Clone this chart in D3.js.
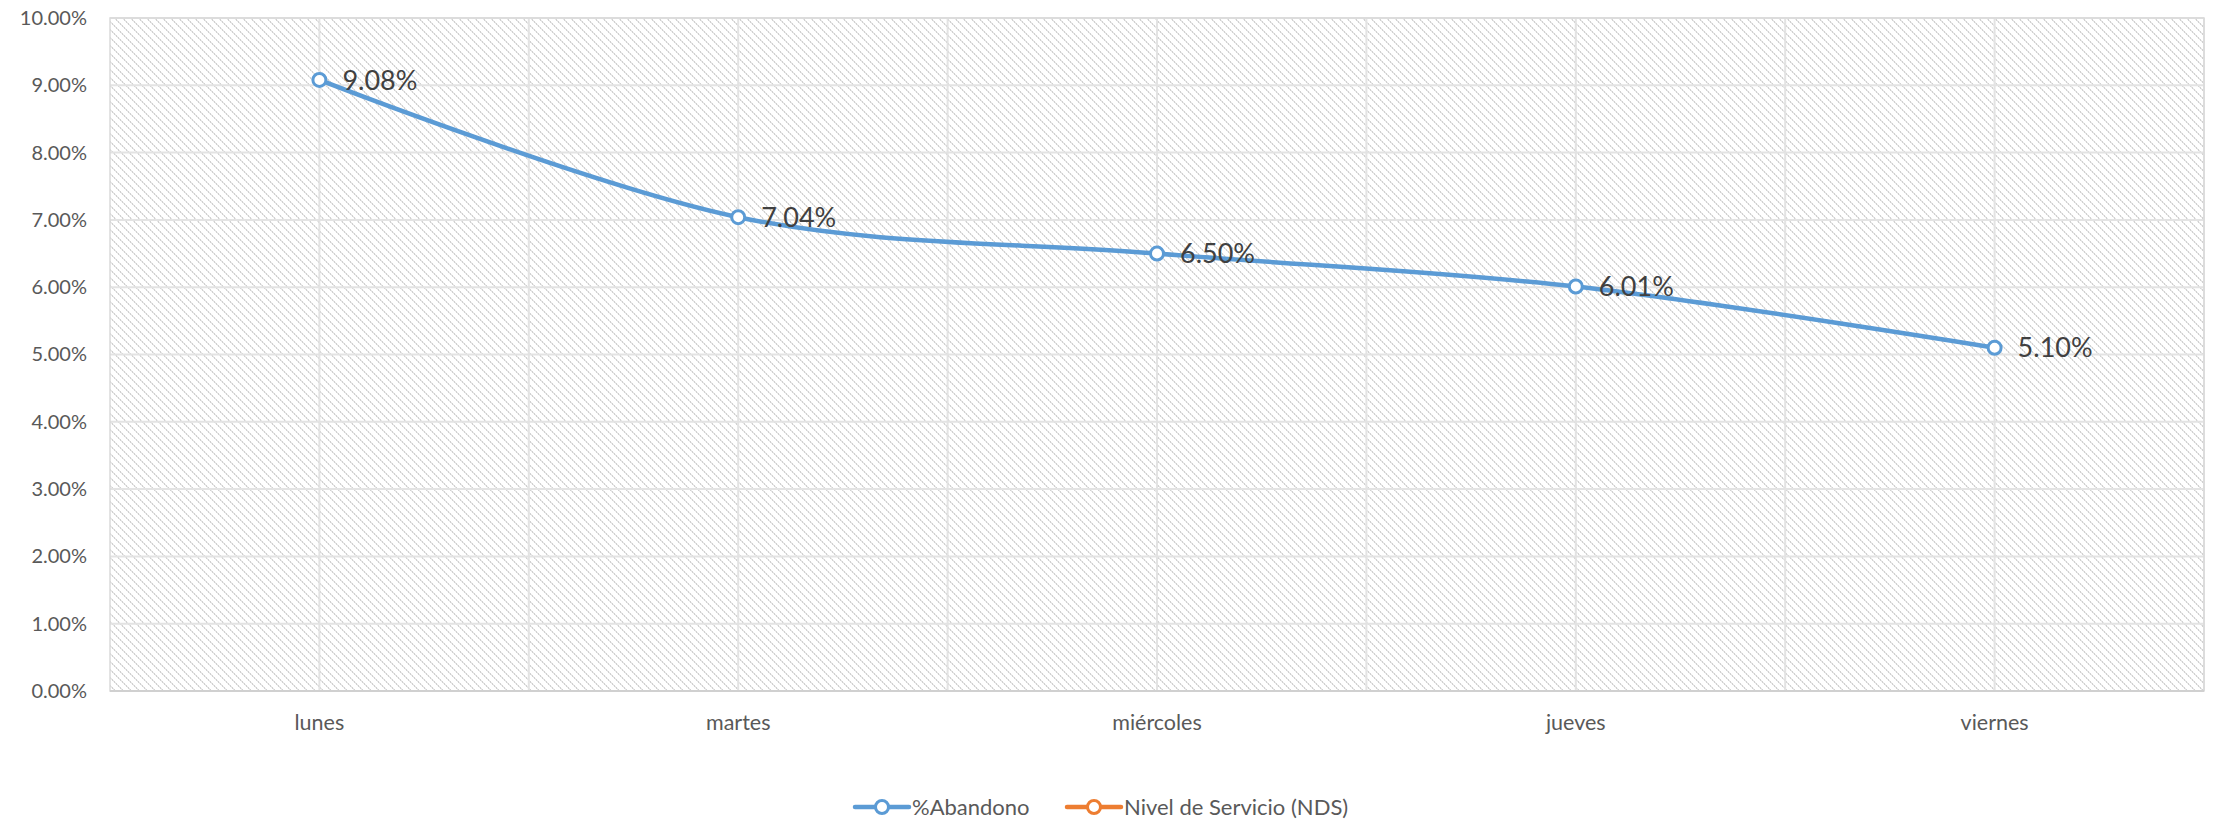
<!DOCTYPE html>
<html>
<head>
<meta charset="utf-8">
<script src="https://cdn.jsdelivr.net/npm/d3@7"></script>
<style>
    html, body { margin: 0; padding: 0; background: #fff; }
    svg { display: block; font-family: Lato, "Open Sans", sans-serif; }
</style>
</head>
<body>
<div id="stage"></div>
<script>
var categories = ['lunes', 'martes', 'miércoles', 'jueves', 'viernes'];
var abandono = [9.08, 7.04, 6.50, 6.01, 5.10];
var y_ticks = [0, 1, 2, 3, 4, 5, 6, 7, 8, 9, 10];
var legend_names = ['%Abandono', 'Nivel de Servicio (NDS)'];
var legend_colors = ['#5b9bd5', '#ed7d31'];

var width = 2213, height = 820;
var plot = {left: 110, right: 2204, top: 18, bottom: 691};

var svg = d3.select('#stage').append('svg')
    .attr('width', width)
    .attr('height', height);

// patron de rayas diagonales del fondo
var defs = svg.append('defs');
var pattern = defs.append('pattern')
    .attr('id', 'hatch')
    .attr('patternUnits', 'userSpaceOnUse')
    .attr('width', 8)
    .attr('height', 8);
pattern.append('rect').attr('width', 8).attr('height', 8).attr('fill', '#fff');
for (var i = 0; i < 8; i++) {
    pattern.append('rect')
        .attr('x', i).attr('y', i)
        .attr('width', 1).attr('height', 1)
        .attr('fill', i % 2 == 0 ? '#d2d2d2' : '#e8e8e8');
    pattern.append('rect')
        .attr('x', (i + 1) % 8).attr('y', i)
        .attr('width', 1).attr('height', 1)
        .attr('fill', i % 2 == 0 ? '#e8e8e8' : '#d2d2d2');
}

var x = d3.scaleBand().domain(categories).range([plot.left, plot.right]).padding(0);
var y = d3.scaleLinear().domain([0, 10]).range([plot.bottom, plot.top]);

svg.append('rect')
    .attr('x', plot.left)
    .attr('y', plot.top)
    .attr('width', plot.right - plot.left)
    .attr('height', plot.bottom - plot.top)
    .attr('fill', 'url(#hatch)');

// lineas de division horizontales
svg.append('g').selectAll('line.h')
    .data(y_ticks)
    .enter()
    .append('line')
    .attr('x1', plot.left).attr('x2', plot.right)
    .attr('y1', function (d) { return y(d); })
    .attr('y2', function (d) { return y(d); })
    .attr('stroke', '#e3e3e3')
    .attr('stroke-width', 2);

// lineas verticales: en el centro y en el limite de cada categoria
var v_lines = [];
categories.forEach(function (c) {
    v_lines.push(x(c) + x.bandwidth() / 2);
    v_lines.push(x(c) + x.bandwidth());
});
svg.append('g').selectAll('line')
    .data(v_lines)
    .enter()
    .append('line')
    .attr('x1', function (d) { return d; })
    .attr('x2', function (d) { return d; })
    .attr('y1', plot.top).attr('y2', plot.bottom)
    .attr('stroke', '#e3e3e3')
    .attr('stroke-width', 2);

svg.append('rect')
    .attr('x', plot.left)
    .attr('y', plot.top)
    .attr('width', plot.right - plot.left)
    .attr('height', plot.bottom - plot.top)
    .attr('fill', 'none')
    .attr('stroke', '#dadada')
    .attr('stroke-width', 1.5);

// eje y
var y_axis = svg.append('g')
    .attr('transform', 'translate(' + (plot.left - 23) + ',0)')
    .call(d3.axisLeft(y).tickValues(y_ticks).tickSize(0).tickFormat(function (d) {
        return d.toFixed(2) + '%';
    }));
y_axis.select('.domain').remove();
y_axis.selectAll('text')
    .attr('font-size', 20)
    .attr('font-family', 'Lato, sans-serif')
    .attr('fill', '#595959')
    .attr('x', 0);

// eje x
var x_axis = svg.append('g')
    .attr('transform', 'translate(0,' + (plot.bottom + 31) + ')')
    .call(d3.axisBottom(x).tickSize(0));
x_axis.select('.domain').remove();
x_axis.selectAll('text')
    .attr('font-size', 21.5)
    .attr('font-family', 'Lato, sans-serif')
    .attr('fill', '#595959')
    .attr('y', 0)
    .attr('dy', '0.35em');

svg.append('line')
    .attr('x1', plot.left).attr('x2', plot.right)
    .attr('y1', plot.bottom).attr('y2', plot.bottom)
    .attr('stroke', '#d0d0d0')
    .attr('stroke-width', 2);

var points = categories.map(function (c, i) {
    return {cat: c, value: abandono[i]};
});
var cx = function (d) { return x(d.cat) + x.bandwidth() / 2; };
var cy = function (d) { return y(d.value); };

var line = d3.line().x(cx).y(cy).curve(d3.curveCardinal.tension(0));

svg.append('path')
    .attr('d', line(points))
    .attr('fill', 'none')
    .attr('stroke', legend_colors[0])
    .attr('stroke-width', 4.5)
    .attr('stroke-linejoin', 'round');

svg.append('g').selectAll('circle')
    .data(points)
    .enter()
    .append('circle')
    .attr('cx', cx)
    .attr('cy', cy)
    .attr('r', 6.5)
    .attr('fill', '#fff')
    .attr('stroke', legend_colors[0])
    .attr('stroke-width', 3);

svg.append('g').selectAll('text')
    .data(points)
    .enter()
    .append('text')
    .attr('x', function (d) { return cx(d) + 23; })
    .attr('y', cy)
    .attr('dy', '0.36em')
    .attr('font-size', 27)
    .attr('fill', '#404040')
    .text(function (d) { return d.value.toFixed(2) + '%'; });

// leyenda
var legend_x = [855, 1067];
var legend = svg.append('g').selectAll('g')
    .data(legend_names)
    .enter()
    .append('g')
    .attr('transform', function (d, i) { return 'translate(' + legend_x[i] + ',807)'; });
legend.append('line')
    .attr('x1', 0).attr('x2', 54)
    .attr('y1', 0).attr('y2', 0)
    .attr('stroke', function (d, i) { return legend_colors[i]; })
    .attr('stroke-width', 4.5)
    .attr('stroke-linecap', 'round');
legend.append('circle')
    .attr('cx', 27).attr('cy', 0).attr('r', 6.5)
    .attr('fill', '#fff')
    .attr('stroke', function (d, i) { return legend_colors[i]; })
    .attr('stroke-width', 3);
legend.append('text')
    .attr('x', 57)
    .attr('y', 0)
    .attr('dy', '0.35em')
    .attr('font-size', 22)
    .attr('fill', '#595959')
    .text(function (d) { return d; });
</script>
</body>
</html>
